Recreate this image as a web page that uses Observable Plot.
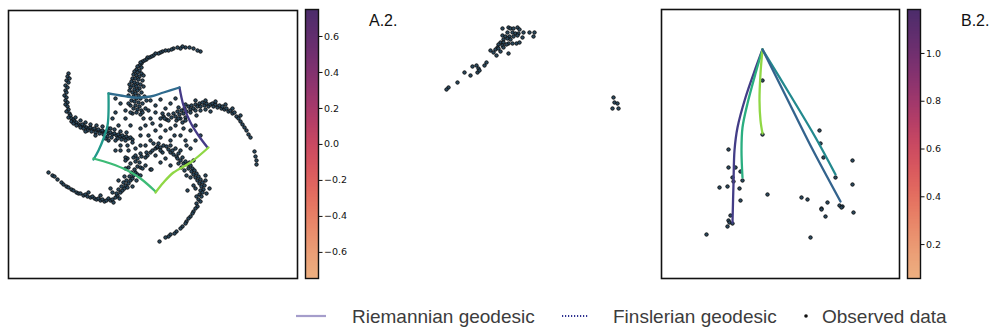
<!DOCTYPE html>
<html><head><meta charset="utf-8">
<script src="https://cdn.jsdelivr.net/npm/d3@7"></script>
<script src="https://cdn.jsdelivr.net/npm/@observablehq/plot@0.6"></script>
<style>
body{margin:0;background:#fff;}
#root{position:relative;width:1000px;height:334px;overflow:hidden;font-family:"Liberation Sans",Arial,sans-serif;}
.lab{position:absolute;top:12px;font-size:16px;color:#111;line-height:18px;}
</style></head>
<body><div id="root"></div>
<script>
// ---------- Panel A (latent space, 5-arm spiral) ----------
const armTop = [[200,51],[197,50],[193,48],[189,47],[185,47],[182,46],[180,48],[177,47],[173,48],[171,49],[168,50],[165,50],[162,51],[160,52],[158,53],[155,53],[153,55],[151,56],[149,57],[147,57],[146,59],[144,60],[142,61],[141,63],[140,62],[139,65],[137,66],[141,67],[136,69],[139,70],[134,71],[137,72],[141,73],[133,74],[136,75],[139,76],[132,78],[135,78],[138,79],[142,80],[131,81],[134,82],[137,83],[140,84],[133,85],[136,86],[130,87],[139,88],[134,89],[137,90],[132,92],[141,92],[135,93],[138,95],[133,96],[136,98],[140,98],[131,100],[134,101],[138,102],[142,103],[135,105],[139,106],[133,108],[137,109],[141,110],[136,112],[140,114],[129,84],[143,86],[128,95],[144,96],[130,105],[145,108],[143,75],[129,90],[146,100],[132,113]];
const armLeft = [[68,73],[67,76],[69,78],[66,80],[68,82],[65,85],[67,87],[65,90],[66,92],[64,95],[66,97],[65,100],[67,102],[65,104],[67,106],[68,109],[66,111],[69,113],[70,115],[68,117],[71,118],[73,119],[71,121],[74,121],[76,122],[73,123],[78,124],[76,125],[80,125],[82,124],[80,127],[84,126],[86,127],[83,128],[88,128],[90,127],[87,130],[92,129],[94,128],[91,131],[96,130],[98,129],[95,132],[100,131],[102,130],[99,133],[104,132],[106,131],[103,134],[108,133],[110,132],[107,136],[112,134],[114,133],[111,137],[116,135],[118,134],[120,136],[117,138],[122,135],[124,137],[121,139],[126,136],[128,138],[125,140],[130,137],[132,139],[75,117],[80,120],[85,122],[90,124],[96,125],[102,126],[108,128],[114,129],[120,131],[126,132],[85,131],[95,135],[105,138],[115,140]];
const armRight = [[160,118],[163,116],[166,119],[168,114],[171,117],[173,113],[175,116],[177,111],[179,114],[181,110],[183,113],[184,108],[186,111],[188,106],[190,109],[191,105],[193,108],[195,104],[197,106],[199,103],[200,106],[202,102],[204,105],[206,103],[208,106],[210,104],[212,103],[213,106],[215,104],[217,107],[219,105],[221,108],[222,106],[224,109],[226,108],[228,111],[230,110],[232,113],[234,112],[236,116],[238,118],[240,121],[242,124],[244,127],[246,130],[248,134],[250,137],[254,151],[255,156],[256,160],[256,164],[185,117],[190,112],[195,110],[200,110],[205,109],[180,118],[178,107],[185,104],[195,100],[205,100],[215,101],[225,104],[232,108],[240,115],[176,120],[182,122],[196,115],[210,111]];
const armLowerLeft = [[48,172],[52,175],[54,176],[57,179],[61,182],[63,184],[66,186],[68,187],[71,189],[73,190],[76,192],[78,193],[80,193],[83,195],[85,194],[87,196],[90,197],[92,196],[94,198],[96,199],[98,198],[100,200],[102,199],[104,201],[106,200],[108,198],[110,200],[112,199],[113,202],[115,197],[117,195],[119,198],[116,193],[120,192],[122,190],[118,189],[124,188],[121,186],[125,185],[127,187],[123,182],[128,183],[126,180],[130,180],[132,178],[129,176],[133,175],[131,172],[135,172],[137,174],[140,175],[134,169],[137,166],[140,167],[130,163],[135,161],[139,162],[127,158],[133,157],[137,158],[141,156],[145,157],[140,153],[147,155],[150,152],[152,150],[155,148],[157,147],[150,169],[125,157],[120,150],[127,145],[140,145],[112,192],[118,180],[124,176],[128,167],[132,186],[110,188],[100,195],[88,192],[136,180],[142,168]];
const armLowerRight = [[153,143],[157,146],[160,147],[163,145],[166,146],[168,149],[170,152],[172,150],[173,154],[176,156],[178,153],[177,158],[180,160],[182,157],[183,163],[185,161],[187,164],[189,162],[188,168],[190,165],[192,168],[191,171],[194,170],[193,174],[196,173],[195,177],[198,176],[197,180],[200,179],[199,183],[202,182],[201,186],[204,185],[203,189],[200,190],[202,192],[199,194],[201,196],[198,199],[200,201],[196,203],[197,206],[195,208],[193,211],[192,213],[190,216],[188,218],[186,221],[185,223],[182,226],[180,228],[176,231],[174,233],[170,234],[168,236],[165,237],[159,241],[187,190],[209,188],[205,180],[193,185],[186,175],[181,167],[151,169],[178,163],[184,170],[190,177],[195,188],[206,193],[196,196],[205,175],[193,160],[170,145],[162,152]];
const core = [[120,103],[125,110],[115,112],[150,100],[155,105],[160,99],[165,108],[170,103],[175,98],[168,120],[160,125],[150,118],[145,125],[155,130],[165,130],[175,125],[180,135],[170,140],[160,137],[150,140],[140,128],[130,125],[125,118],[118,125],[120,145],[128,150],[135,148],[145,145],[155,155],[165,158],[175,148],[185,140],[190,130],[195,125],[185,120],[178,118],[148,110],[143,118],[130,112],[112,118],[110,128],[108,140],[115,150],[125,160],[145,165],[160,162],[170,165],[180,150],[190,148],[195,140],[200,135],[162,113],[155,112],[140,135],[132,142],[148,135],[158,143],[170,128],[183,128],[125,168],[115,98],[128,103],[142,112],[152,123],[164,118],[174,135],[186,145],[160,150],[146,152],[135,155]];
const geodesicsA = [
  {c:"#453a87", p:[[179,87],[183,105],[190,122],[198,135],[207,147]]},
  {c:"#2f6b8e", p:[[108,93],[120,95],[133,97],[150,96],[163,92],[179,87]]},
  {c:"#21998a", p:[[108,93],[108,112],[107,125],[103,138],[98,150],[93,159]]},
  {c:"#3dbb76", p:[[93,158],[110,163],[127,170],[140,178],[155,191]]},
  {c:"#8fd744", p:[[155,192],[163,182],[173,172],[190,162],[208,147]]}
];
// ---------- Middle panel ----------
const midPoints = [[502,28],[508,27],[510,28],[513,28],[517,27],[519,29],[523,32],[529,32],[534,32],[533,36],[507,32],[512,32],[515,33],[518,33],[522,37],[502,35],[505,36],[509,36],[513,36],[517,35],[503,39],[507,38],[510,39],[500,42],[503,42],[508,43],[512,43],[516,43],[519,42],[498,44],[502,45],[506,44],[497,47],[503,47],[495,49],[498,48],[490,50],[493,52],[500,51],[496,55],[508,53],[486,62],[484,65],[472,66],[476,65],[478,68],[477,72],[479,70],[464,72],[470,75],[457,82],[448,87],[446,89],[613,97],[614,102],[617,103],[612,108],[618,108]];
// ---------- Panel B ----------
const pointsB = [[762,80],[762,134],[728,149],[728,167],[735,167],[740,171],[732,177],[733,181],[742,180],[719,187],[727,186],[739,188],[740,200],[767,194],[730,215],[728,220],[729,222],[732,223],[727,226],[706,234],[819,130],[820,143],[823,157],[852,160],[835,177],[852,184],[801,197],[807,199],[827,202],[821,208],[821,209],[825,216],[839,205],[842,206],[841,207],[853,212],[810,237]];
const geodesicsB = [
  {c:"#433d87", p:[[762,49],[755,68],[745,97],[737,127],[734,150],[733,183],[732,222]]},
  {c:"#2aae80", p:[[762,49],[755,73],[747,103],[742,127],[741,150],[742,177]]},
  {c:"#8fd744", p:[[762,49],[760,73],[759,100],[760,120],[762,133]]},
  {c:"#23898e", p:[[762,49],[790,95],[815,137],[835,174]]},
  {c:"#33638d", p:[[762,49],[785,95],[810,145],[840,201]]}
];
// ---------- Colorbars ----------
const cbarA = {domain:[-0.745, 0.75], ticks:[-0.6,-0.4,-0.2,0.0,0.2,0.4,0.6]};
const cbarB = {domain:[0.058, 1.184], ticks:[0.2,0.4,0.6,0.8,1.0]};
const flareStops = ["#edb081","#ea9570","#e6735f","#d8525d","#b93e66","#8f336f","#6a2e6f","#4b2c6b"];

const root = document.getElementById("root");
const flare = d3.interpolateRgbBasis(flareStops);

function place(el, left){ el.style.position="absolute"; el.style.left=left+"px"; el.style.top="0px"; root.appendChild(el); }

const dotStyle = {r:1.75, fill:"#2c4a60", stroke:"#0a0a0a", strokeWidth:0.85};

function scatterPanel({left,width,height,mL,mR,mT,mB,xd,yd,points,geos,frame}){
  const lines = [];
  geos.forEach((g,i)=>g.p.forEach(q=>lines.push({x:q[0],y:q[1],g:i,c:g.c})));
  const marks = [
    Plot.dot(points, {x:d=>d[0], y:d=>d[1], ...dotStyle}),
    Plot.line(lines, {x:"x", y:"y", z:"g", stroke:"c", strokeWidth:2.3, curve:"catmull-rom"})
  ];
  if (frame) marks.push(Plot.frame({stroke:"#111", strokeWidth:1.6}));
  const p = Plot.plot({width,height,marginLeft:mL,marginRight:mR,marginTop:mT,marginBottom:mB,
    x:{domain:xd, axis:null}, y:{domain:yd, reverse:true, axis:null}, marks});
  place(p,left);
}

function colorbar({left,cb}){
  const [lo,hi]=cb.domain, n=160, step=(hi-lo)/n;
  const bands = d3.range(n).map(i=>lo+i*step);
  const p = Plot.plot({width:60,height:290,marginLeft:10,marginRight:37,marginTop:9,marginBottom:12,
    style:{fontFamily:"DejaVu Sans",fontSize:"9.5px",color:"#111"},
    x:{domain:[0,1],axis:null}, y:{domain:cb.domain},
    marks:[
      Plot.rect(bands,{x1:0,x2:1,y1:d=>d,y2:d=>Math.min(hi,d+step*1.3),fill:d=>flare((d+step/2-lo)/(hi-lo)),shapeRendering:"crispEdges"}),
      Plot.frame({stroke:"#111",strokeWidth:1.4}),
      Plot.axisY({anchor:"right",ticks:cb.ticks,tickSize:3.5,tickPadding:2,tickFormat:d3.format(".1f"),label:null})
    ]});
  place(p,left);
}

scatterPanel({left:0,width:305,height:290,mL:8,mR:8,mT:10,mB:12,xd:[8,297],yd:[10,278],
  points:[...armTop,...armLeft,...armRight,...armLowerLeft,...armLowerRight,...core],geos:geodesicsA,frame:true});
colorbar({left:295,cb:cbarA});
scatterPanel({left:330,width:320,height:290,mL:0,mR:0,mT:0,mB:0,xd:[330,650],yd:[0,290],points:midPoints,geos:[],frame:false});
scatterPanel({left:650,width:260,height:290,mL:11,mR:11,mT:9,mB:12,xd:[661,899],yd:[9,278],points:pointsB,geos:geodesicsB,frame:true});
colorbar({left:897,cb:cbarB});

function label(txt,left){const d=document.createElement("div");d.className="lab";d.textContent=txt;d.style.left=left+"px";root.appendChild(d);}
label("A.2.",369); label("B.2.",961);

// legend
const legendItems = [
  {label:"Riemannian geodesic", kind:"solid", sx:296, tx:352},
  {label:"Finslerian geodesic", kind:"dotted", sx:562, tx:613},
  {label:"Observed data", kind:"dot", sx:806, tx:822}
];
const svg = d3.create("svg").attr("width",1000).attr("height",44).style("position","absolute").style("left","0px").style("top","290px");
legendItems.forEach(it=>{
  if(it.kind==="solid") svg.append("line").attr("x1",it.sx).attr("x2",it.sx+30).attr("y1",26).attr("y2",26).attr("stroke","#a59dcb").attr("stroke-width",2.2);
  if(it.kind==="dotted") svg.append("line").attr("x1",it.sx).attr("x2",it.sx+26).attr("y1",26).attr("y2",26).attr("stroke","#2e3190").attr("stroke-width",1.8).attr("stroke-dasharray","1.2,1.8");
  if(it.kind==="dot") svg.append("circle").attr("cx",it.sx).attr("cy",26).attr("r",1.8).attr("fill","#111");
  svg.append("text").attr("x",it.tx).attr("y",33).attr("font-family","Liberation Sans, Arial, sans-serif").attr("font-size",19).attr("fill","#3c3c3c").text(it.label);
});
root.appendChild(svg.node());
</script></body></html>
